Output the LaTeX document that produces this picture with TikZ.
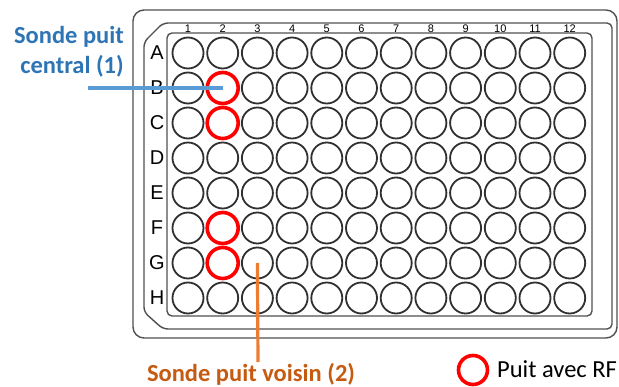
\documentclass[tikz,border=0pt]{standalone}
\usepackage{fontspec}
\setmainfont{Carlito}
\newfontfamily\arialf{Liberation Sans}
\definecolor{bluetxt}{HTML}{2E75B6}
\definecolor{blueline}{HTML}{5B9BD5}
\definecolor{orgline}{HTML}{ED7D31}
\definecolor{orgtxt}{HTML}{C55A11}
\definecolor{plategray}{HTML}{505050}
\definecolor{wellgray}{HTML}{303030}
\begin{document}
\begin{tikzpicture}[x=1pt,y=-1pt,
  plateline/.style={draw=plategray,line width=1.4pt},
  well/.style={circle,draw=wellgray,line width=1.8pt,minimum size=31pt,inner sep=0pt},
  rfwell/.style={circle,draw=red,line width=3.6pt,minimum size=31pt,inner sep=0pt},
  rowlab/.style={font=\arialf\fontsize{20}{20}\selectfont,inner sep=0pt},
  collab/.style={font=\arialf\fontsize{11}{11}\selectfont,inner sep=0pt},
  callout/.style={font=\bfseries\fontsize{24.5}{30}\selectfont,inner sep=0pt}]
\useasboundingbox (0,0) rectangle (619,387);
% plate
\draw[plateline,rounded corners=11] (133,10) rectangle (617,338);
\draw[plateline,rounded corners=5] (163,23) -- (612,23) -- (612,329) -- (163,329) -- (144,312) -- (144,42) -- cycle;
\draw[plateline,rounded corners=5] (167,33) rectangle (592,316);
% column labels
\foreach \c in {1,...,12}{
  \node[collab] (col\c) at ({188+34.7*(\c-1)},28.5) {\c};
}
% wells and row labels
\foreach \r [count=\i from 0] in {A,B,C,D,E,F,G,H}{
  \node[rowlab] (row\r) at (157,{53+35*\i}) {\r};
  \foreach \c in {1,...,12}{
    \node[well] (w-\r-\c) at ({188+34.7*(\c-1)},{53+35*\i}) {};
  }
}
% wells with RF
\foreach \r in {B,C,F,G}{
  \node[rfwell] (rf-\r) at (w-\r-2.center) {};
}
% callout 1
\node[callout,text=bluetxt,align=right,anchor=east] (lab1) at (124,52) {Sonde puit\\central (1)};
\coordinate (c1) at (88,88);
\draw[blueline,line width=3.2pt] (c1) -- (w-B-2.center);
% callout 2
\coordinate (c2) at (258,362);
\draw[orgline,line width=3.2pt] (w-G-3.center) -- (c2);
\node[callout,text=orgtxt,anchor=base] (lab2) at (251,382) {Sonde puit voisin (2)};
% legend
\node[circle,draw=red,line width=3.6pt,minimum size=29pt,inner sep=0pt] (leg) at (473,370) {};
\node[font=\fontsize{24.5}{25}\selectfont,inner sep=0pt,anchor=base west] (legtxt) at (497,378) {Puit avec RF};
\end{tikzpicture}
\end{document}
